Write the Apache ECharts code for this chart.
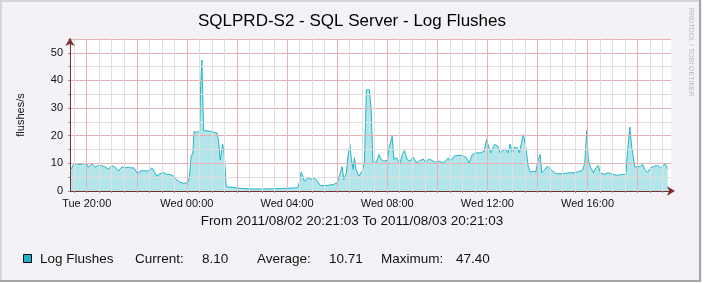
<!DOCTYPE html>
<html><head><meta charset="utf-8">
<script src="https://cdn.jsdelivr.net/npm/echarts@6/dist/echarts.min.js"></script>
<style>html,body{margin:0;padding:0;background:#fff}#c{width:704px;height:283px}</style>
</head><body><div id="c"></div>
<script>
const titleText = 'SQLPRD-S2 - SQL Server - Log Flushes';
const rangeText = 'From 2011/08/02 20:21:03 To 2011/08/03 20:21:03';
const seriesName = 'Log Flushes';
const yAxisName = 'flushes/s';
const watermark = 'RRDTOOL / TOBI OETIKER';
const xMin = 19 + 20 / 60;
const xMax = xMin + 24;
const xLabelHours = [20, 24, 28, 32, 36, 40];
const xMajorHours = [20, 22, 24, 26, 28, 30, 32, 34, 36, 38, 40, 42];
const xMinorHours = [19.5, 20, 20.5, 21, 21.5, 22, 22.5, 23, 23.5, 24, 24.5, 25, 25.5, 26, 26.5, 27, 27.5, 28, 28.5, 29, 29.5, 30, 30.5, 31, 31.5, 32, 32.5, 33, 33.5, 34, 34.5, 35, 35.5, 36, 36.5, 37, 37.5, 38, 38.5, 39, 39.5, 40, 40.5, 41, 41.5, 42, 42.5, 43];
const yMax = 55;
const yMinorStep = 5;
const yMajorStep = 10;

const hours = [19.34,19.40,19.47,19.60,19.73,19.87,20.00,20.07,20.20,20.33,20.47,20.60,20.73,20.87,21.00,21.13,21.27,21.40,21.53,21.67,21.80,21.89,22.03,22.13,22.27,22.40,22.53,22.60,22.71,22.80,22.93,23.07,23.20,23.33,23.47,23.57,23.71,23.87,24.03,24.10,24.17,24.24,24.29,24.40,24.51,24.55,24.60,24.63,24.67,24.80,24.93,25.07,25.20,25.26,25.33,25.43,25.49,25.57,25.60,25.87,26.13,26.40,26.93,27.47,28.00,28.27,28.43,28.51,28.56,28.63,28.69,28.80,28.91,29.00,29.09,29.20,29.33,29.60,29.73,29.87,30.00,30.11,30.20,30.27,30.37,30.43,30.51,30.57,30.64,30.69,30.77,30.87,31.00,31.09,31.17,31.29,31.36,31.43,31.50,31.57,31.67,31.76,31.87,32.00,32.09,32.20,32.27,32.37,32.51,32.60,32.69,32.80,32.91,33.04,33.17,33.31,33.44,33.53,33.67,33.80,33.93,34.07,34.20,34.33,34.44,34.53,34.67,34.80,35.00,35.13,35.27,35.40,35.53,35.73,35.87,35.97,36.04,36.13,36.20,36.29,36.40,36.51,36.64,36.73,36.83,36.91,37.00,37.09,37.20,37.28,37.36,37.44,37.53,37.63,37.71,37.84,37.93,38.03,38.11,38.17,38.27,38.40,38.53,38.73,39.00,39.27,39.47,39.67,39.80,39.89,39.97,40.03,40.13,40.24,40.33,40.43,40.51,40.67,40.83,41.00,41.20,41.40,41.53,41.60,41.69,41.76,41.81,41.89,42.00,42.11,42.20,42.29,42.40,42.53,42.67,42.80,42.91,43.00,43.09,43.20];
const values = [9.0,8.0,9.6,9.9,9.6,9.9,9.9,8.6,9.9,8.6,9.3,9.2,8.7,7.9,9.3,8.6,7.2,8.7,8.4,8.6,8.3,8.4,6.2,7.2,7.4,7.2,7.5,8.4,6.8,5.4,6.3,6.6,6.0,6.0,5.4,4.2,3.2,2.8,3.0,4.8,12.4,13.8,21.5,21.2,21.8,38.0,47.4,47.0,21.8,21.8,21.6,21.3,21.0,18.6,11.2,16.9,13.8,1.6,1.4,1.2,1.0,0.8,0.7,0.8,1.0,1.1,1.2,3.6,6.8,5.4,3.6,4.4,4.8,4.0,4.8,3.6,2.0,2.0,2.2,2.4,3.0,6.0,8.8,4.2,6.6,12.4,17.0,11.4,7.8,12.0,7.2,5.4,7.2,10.2,36.6,36.6,29.3,10.6,10.6,10.4,13.2,11.4,10.8,11.1,16.2,19.8,11.4,12.0,10.0,13.2,14.6,11.4,10.8,12.3,10.2,11.0,11.6,10.4,11.6,11.0,10.4,10.8,10.2,10.8,12.0,10.8,12.6,12.9,12.8,12.3,10.2,13.2,13.8,13.8,14.4,18.6,18.8,13.8,13.8,16.8,16.4,13.8,14.7,15.2,13.8,17.0,13.8,15.9,15.6,13.8,17.4,20.4,16.2,9.0,6.8,7.2,6.8,11.4,13.2,6.6,7.5,9.0,7.8,6.3,6.2,6.6,6.6,7.1,7.4,10.2,21.9,11.4,8.4,6.6,8.4,9.2,6.6,6.0,6.6,6.0,5.7,6.0,6.0,14.4,23.1,16.2,15.9,8.7,8.7,9.0,9.6,7.8,6.8,8.4,9.0,9.2,8.4,9.0,9.8,8.1];

const FONT = 'Liberation Sans, Arial, Helvetica, sans-serif';
const pairs = hours.map((h, i) => [h, values[i]]);
const cur = values[values.length - 1];
const avg = values.reduce((a, b) => a + b, 0) / values.length;
const mx = Math.max(...values);

function hourLabel(v) {
  const r = Math.round(v);
  const day = r < 24 ? 'Tue' : 'Wed';
  const hh = String(r % 24).padStart(2, '0');
  return day + ' ' + hh + ':00';
}

const lineColor = '#22b6c6';
const fillColor = '#b2e6ea';
const axisColor = '#7a2e2e';
const minorColor = '#e2dede';
const majorColor = '#e6b0b4';

const chart = echarts.init(document.getElementById('c'), null, {renderer: 'canvas'});
const gridBox = {left: 70, right: 33, top: 39, bottom: 92};

chart.setOption({
  backgroundColor: '#f4f2f6',
  animation: false,
  title: {
    text: titleText, left: 'center', top: 8,
    textStyle: {fontFamily: FONT, fontSize: 17, fontWeight: 'normal', color: '#000'}
  },
  grid: Object.assign({show: true, backgroundColor: '#ffffff', borderWidth: 0}, gridBox),
  xAxis: [
    {
      type: 'value', min: xMin, max: xMax, z: 3,
      axisLine: {show: true, lineStyle: {color: axisColor, width: 1}, symbol: ['none', 'arrow'], symbolSize: [7, 8], symbolOffset: [0, 4]},
      axisTick: {show: true, customValues: xMinorHours, length: 2, lineStyle: {color: '#999'}},
      axisLabel: {customValues: xLabelHours, formatter: hourLabel, margin: 7, fontFamily: FONT, fontSize: 11, color: '#111'},
      splitLine: {show: true, lineStyle: {color: minorColor, width: 1}}
    },
    {
      type: 'value', min: xMin, max: xMax, z: 3, position: 'bottom',
      axisLine: {show: false},
      axisTick: {show: false, customValues: xMajorHours},
      axisLabel: {show: false},
      splitLine: {show: true, lineStyle: {color: majorColor, width: 1}}
    }
  ],
  yAxis: [
    {
      type: 'value', min: 0, max: yMax, interval: yMinorStep, z: 3,
      name: yAxisName, nameLocation: 'middle', nameRotate: 90, nameGap: 44,
      nameTextStyle: {fontFamily: FONT, fontSize: 11, color: '#111'},
      axisLine: {show: true, lineStyle: {color: axisColor, width: 1}, symbol: ['none', 'arrow'], symbolSize: [7, 8], symbolOffset: [0, 1]},
      axisTick: {show: true, length: 2, lineStyle: {color: '#999'}},
      axisLabel: {margin: 7, fontFamily: FONT, fontSize: 11, color: '#111',
        formatter: v => (v % yMajorStep === 0 ? String(v) : '')},
      splitLine: {show: true, lineStyle: {color: minorColor, width: 1}}
    },
    {
      type: 'value', min: 0, max: yMax, interval: yMajorStep, z: 3,
      axisLine: {show: false}, axisTick: {show: false}, axisLabel: {show: false},
      splitLine: {show: true, lineStyle: {color: majorColor, width: 1}}
    }
  ],
  series: [{
    name: seriesName, type: 'line', data: pairs, xAxisIndex: 0, yAxisIndex: 0,
    showSymbol: false, symbol: 'none', smooth: false, z: 2,
    lineStyle: {color: lineColor, width: 1},
    areaStyle: {color: fillColor, opacity: 1}
  }],
  graphic: [
    {type: 'rect', z: -10, silent: true, shape: {x: 0, y: 0, width: 704, height: 283}, style: {fill: '#ffffff'}},
    {type: 'rect', z: -9, silent: true, shape: {x: 0, y: 0, width: 702, height: 282}, style: {fill: '#f4f2f6'}},
    {type: 'line', z: 10, silent: true, shape: {x1: 0, y1: 1, x2: 701, y2: 1}, style: {stroke: '#d6d4d8', lineWidth: 2}},
    {type: 'line', z: 10, silent: true, shape: {x1: 1, y1: 0, x2: 1, y2: 281}, style: {stroke: '#d6d4d8', lineWidth: 2}},
    {type: 'line', z: 10, silent: true, shape: {x1: 700, y1: 0, x2: 700, y2: 282}, style: {stroke: '#a6a4a8', lineWidth: 2}},
    {type: 'line', z: 10, silent: true, shape: {x1: 0, y1: 281, x2: 701, y2: 281}, style: {stroke: '#a6a4a8', lineWidth: 2}},
    {type: 'text', z: 10, silent: true, x: 691, y: 8, rotation: -Math.PI / 2,
      style: {text: watermark, fontFamily: FONT, fontSize: 7, fill: '#bdbac0', textAlign: 'left', textVerticalAlign: 'middle'}},
    {type: 'text', z: 10, silent: true, x: 352, y: 221,
      style: {text: rangeText, fontFamily: FONT, fontSize: 13.5, fill: '#111', textAlign: 'center', textVerticalAlign: 'middle'}},
    {type: 'rect', z: 10, silent: true, shape: {x: 23.5, y: 254.5, width: 8, height: 8}, style: {fill: '#1eb4c8', stroke: '#000', lineWidth: 1}},
    {type: 'text', z: 10, silent: true, x: 40, y: 259,
      style: {text: seriesName, fontFamily: FONT, fontSize: 13.5, fill: '#111', textVerticalAlign: 'middle'}},
    {type: 'text', z: 10, silent: true, x: 135, y: 259,
      style: {text: 'Current:', fontFamily: FONT, fontSize: 13.5, fill: '#111', textVerticalAlign: 'middle'}},
    {type: 'text', z: 10, silent: true, x: 202, y: 259,
      style: {text: cur.toFixed(2), fontFamily: FONT, fontSize: 13.5, fill: '#111', textVerticalAlign: 'middle'}},
    {type: 'text', z: 10, silent: true, x: 257, y: 259,
      style: {text: 'Average:', fontFamily: FONT, fontSize: 13.5, fill: '#111', textVerticalAlign: 'middle'}},
    {type: 'text', z: 10, silent: true, x: 329, y: 259,
      style: {text: avg.toFixed(2), fontFamily: FONT, fontSize: 13.5, fill: '#111', textVerticalAlign: 'middle'}},
    {type: 'text', z: 10, silent: true, x: 381, y: 259,
      style: {text: 'Maximum:', fontFamily: FONT, fontSize: 13.5, fill: '#111', textVerticalAlign: 'middle'}},
    {type: 'text', z: 10, silent: true, x: 456, y: 259,
      style: {text: mx.toFixed(2), fontFamily: FONT, fontSize: 13.5, fill: '#111', textVerticalAlign: 'middle'}}
  ]
});
</script>
</body></html>
